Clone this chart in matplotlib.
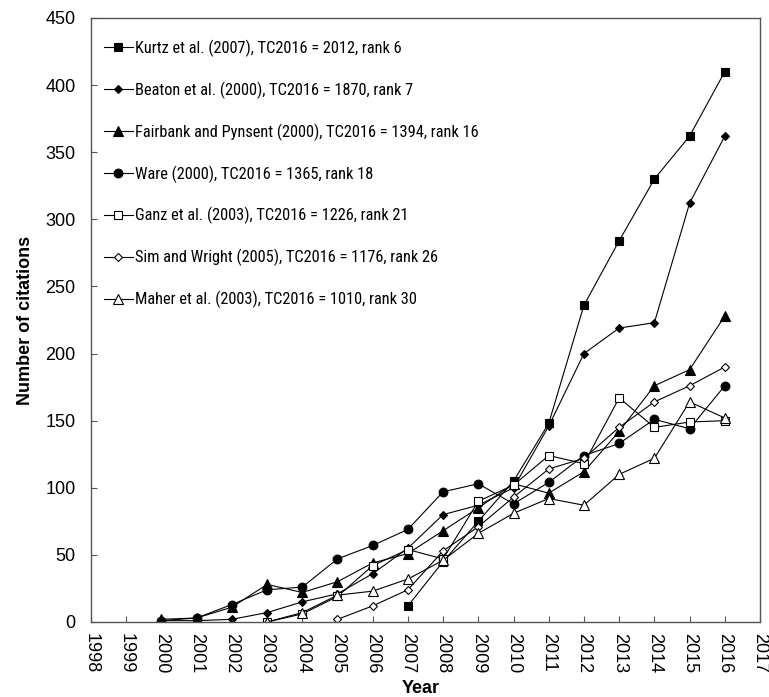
import matplotlib
matplotlib.use("Agg")
import matplotlib.pyplot as plt
from matplotlib import font_manager

plt.rcParams['font.family'] = ['Liberation Sans', 'DejaVu Sans']
_installed = set(f.name for f in font_manager.fontManager.ttflist)
if 'Roboto Condensed' in _installed:
    legend_family, legend_size = ['Roboto Condensed', 'Liberation Sans'], 11.8
elif 'Archivo Narrow' in _installed:
    legend_family, legend_size = ['Archivo Narrow', 'Liberation Sans'], 12.3
else:
    legend_family, legend_size = ['Liberation Sans', 'DejaVu Sans'], 10.3

kurtz_years = list(range(2007, 2017))
kurtz = [12, 45, 75, 105, 148, 236, 284, 330, 362, 410]

beaton_years = list(range(2000, 2017))
beaton = [1, 1, 2, 7, 15, 21, 36, 55, 80, 87, 100, 146, 200, 219, 223, 312, 362]

fairbank_years = list(range(2000, 2017))
fairbank = [2, 3, 11, 28, 22, 30, 44, 51, 68, 85, 103, 96, 112, 142, 176, 188, 228]

ware_years = list(range(2000, 2017))
ware = [1, 3, 13, 24, 26, 47, 57, 69, 97, 103, 88, 104, 124, 133, 151, 144, 176]

ganz_years = list(range(2003, 2017))
ganz = [0, 6, 19, 42, 54, 47, 90, 102, 124, 118, 167, 145, 149, 150]

sim_years = list(range(2005, 2017))
sim = [2, 12, 24, 53, 71, 93, 114, 122, 145, 164, 176, 190]

maher_years = list(range(2003, 2017))
maher = [0, 7, 20, 23, 32, 46, 66, 81, 92, 87, 110, 122, 164, 152]

labels = [
    "Kurtz et al. (2007), TC2016 = 2012, rank 6",
    "Beaton et al. (2000), TC2016 = 1870, rank 7",
    "Fairbank and Pynsent (2000), TC2016 = 1394, rank 16",
    "Ware (2000), TC2016 = 1365, rank 18",
    "Ganz et al. (2003), TC2016 = 1226, rank 21",
    "Sim and Wright (2005), TC2016 = 1176, rank 26",
    "Maher et al. (2003), TC2016 = 1010, rank 30",
]

x_ticks = list(range(1998, 2018))
y_ticks = list(range(0, 451, 50))

series = [
    (kurtz_years, kurtz, dict(marker='s', markersize=6, mfc='black')),
    (beaton_years, beaton, dict(marker='D', markersize=4, mfc='black')),
    (fairbank_years, fairbank, dict(marker='^', markersize=6.5, mfc='black')),
    (ware_years, ware, dict(marker='o', markersize=6.3, mfc='black')),
    (ganz_years, ganz, dict(marker='s', markersize=6, mfc='white')),
    (sim_years, sim, dict(marker='D', markersize=4, mfc='white')),
    (maher_years, maher, dict(marker='^', markersize=6.5, mfc='white')),
]

fig = plt.figure(figsize=(7.69, 6.97), dpi=100)
ax = fig.add_axes([91/769, 75/697, (760-91)/769, (622-18)/697])

for (xs, ys, st), lab in zip(series, labels):
    ax.plot(xs, ys, color='black', lw=0.8, mec='black', mew=0.8, label=lab, **st)

ax.set_xlim(1998, 2017)
ax.set_ylim(0, 450)
ax.set_xticks(x_ticks)
ax.set_xticklabels([str(t) for t in x_ticks], rotation=-90)
ax.set_yticks(y_ticks)
ax.tick_params(direction='in', length=4, width=0.8, color='#555555', labelsize=13)
ax.tick_params(axis='y', pad=11)
ax.tick_params(axis='x', pad=8)
for s in ax.spines.values():
    s.set_color('#555555')
    s.set_linewidth(1.0)

ax.set_xlabel("Year", fontsize=13, fontweight='bold')
ax.set_ylabel("Number of citations", fontsize=13, fontweight='bold')
ax.xaxis.set_label_coords(0.4925, -0.096)
ax.yaxis.set_label_coords(-0.0848, 0.5)

leg = ax.legend(loc='upper left', bbox_to_anchor=(0.019, 0.964), frameon=False,
                prop={'family': legend_family, 'size': legend_size},
                handlelength=1.77, handletextpad=0.12,
                labelspacing=1.5, borderpad=0, borderaxespad=0)

fig.savefig("out.png", dpi=100)
